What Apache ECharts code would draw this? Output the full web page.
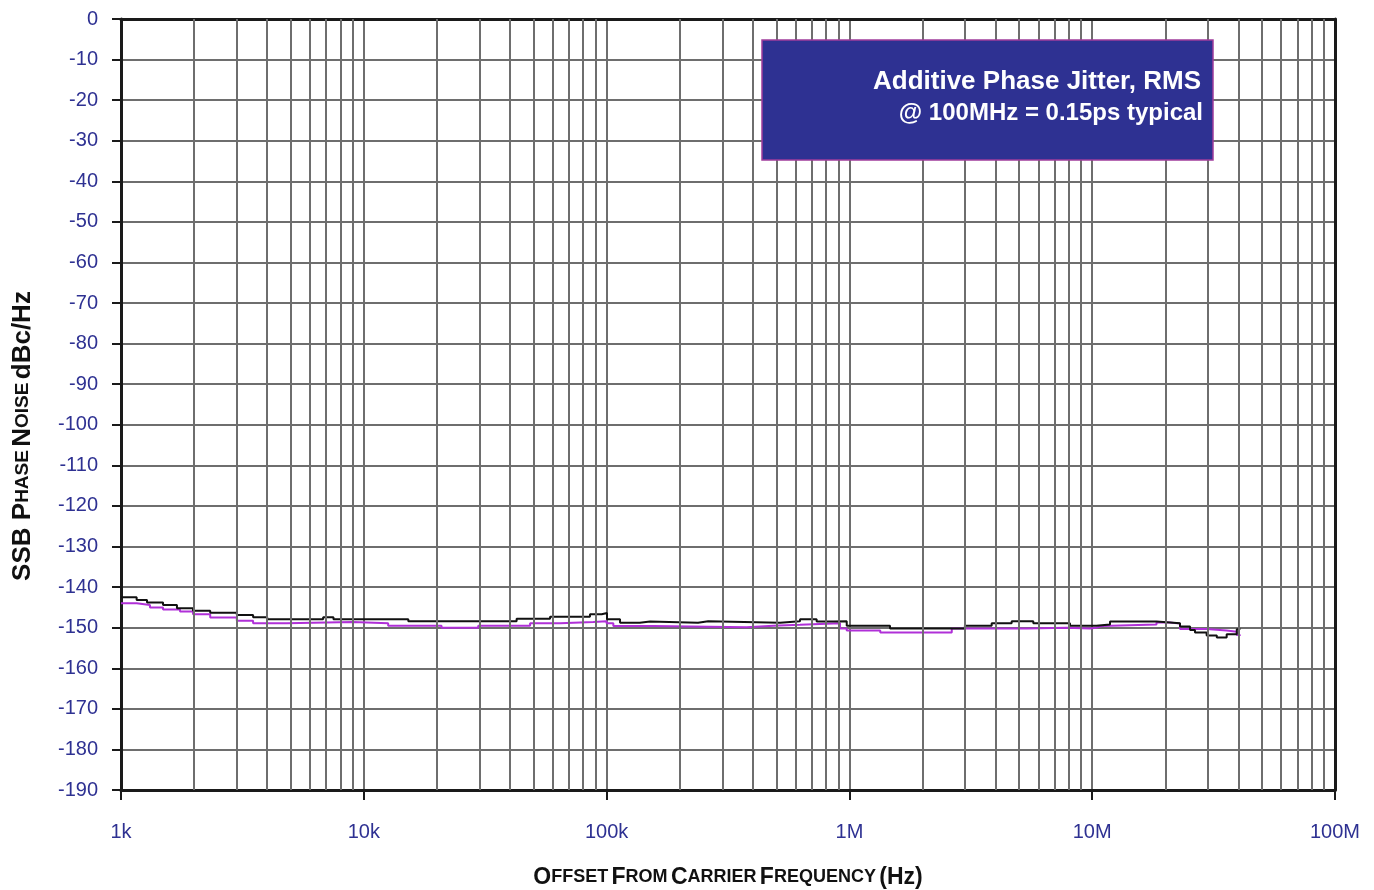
<!DOCTYPE html>
<html>
<head>
<meta charset="utf-8">
<script src="https://cdn.jsdelivr.net/npm/echarts@6/dist/echarts.min.js"></script>
<style>
  html, body { margin: 0; padding: 0; background: #fff; }
  #main { width: 1374px; height: 890px; }
</style>
</head>
<body>
<div id="main"></div>
<script>
// offset frequency (Hz) and SSB phase noise (dBc/Hz)
const blackFreq = [1000, 1160, 1280, 1490, 1700, 1980, 2330, 3000, 3500, 4000, 6800, 7500,
  15250, 42600, 58500, 85400, 95500, 100400, 113600, 137000, 151000, 238000, 262000,
  518000, 626000, 733000, 859000, 975000, 1470000, 2990000, 3855000, 4660000, 5720000,
  8100000, 10400000, 11840000, 18400000, 23000000, 25300000, 26500000, 29600000,
  32600000, 35800000, 39400000, 40500000];
const blackDb = [-142.5, -143.2, -143.8, -144.4, -145.2, -145.8, -146.3, -146.9, -147.4, -147.9, -147.4, -147.9,
  -148.4, -147.8, -147.3, -146.7, -146.4, -147.9, -148.8, -148.5, -148.8, -148.4, -148.8,
  -148.4, -147.9, -148.5, -148.4, -149.5, -150.2, -149.5, -148.9, -148.4, -148.9,
  -149.5, -149.2, -148.5, -148.9, -149.7, -150.6, -151.2, -151.9,
  -152.4, -151.6, -150.4, -150.2];

const magentaFreq = [1000, 1160, 1316, 1490, 1750, 1980, 2330, 3000, 3500, 4810, 9000,
  12600, 20900, 29600, 48400, 64300, 88200, 100000, 106600, 155700, 377000, 486000,
  626000, 915000, 975000, 1340000, 2640000, 5370000, 7850000, 9790000, 10400000,
  11000000, 18400000, 20900000, 23000000, 29600000, 35800000, 39400000, 40600000];
const magentaDb = [-144.0, -144.4, -145.0, -145.5, -146.0, -146.7, -147.5, -148.3, -148.9, -148.6, -148.9,
  -149.5, -150.0, -149.5, -148.9, -148.6, -148.4, -148.9, -149.6, -149.9, -149.5, -149.3,
  -148.9, -150.2, -150.7, -151.2, -150.2, -150.0, -150.2, -150.0, -149.6,
  -149.2, -148.7, -149.0, -150.3, -150.7, -151.0, -151.8, -152.0];

const xTickValues = [1e3, 1e4, 1e5, 1e6, 1e7, 1e8];
const xTickLabels = ['1k', '10k', '100k', '1M', '10M', '100M'];
const minorMultipliers = [2, 3, 4, 5, 6, 7, 8, 9];

const minorFreqs = [];
for (let d = 0; d < xTickValues.length - 1; d++) {
  minorMultipliers.forEach(function (m) { minorFreqs.push(xTickValues[d] * m); });
}

function pairs(xs, ys) {
  return xs.map(function (x, i) { return [x, ys[i]]; });
}

const labelBlue = '#2e3192';
const gridGray = '#6e6e6e';
const frameBlack = '#1a1a1a';
const font = '"Liberation Sans", Arial, sans-serif';

// plain frame axes for the top and right edges of the plot
function frameX() {
  return {
    type: 'log', logBase: 10, min: 1e3, max: 1e8, position: 'top',
    axisLine: { show: true, onZero: false, lineStyle: { color: frameBlack, width: 3 } },
    axisTick: { show: false }, axisLabel: { show: false }, splitLine: { show: false }
  };
}
function frameY() {
  return {
    type: 'value', min: -190, max: 0, position: 'right',
    axisLine: { show: true, onZero: false, lineStyle: { color: frameBlack, width: 3 } },
    axisTick: { show: false }, axisLabel: { show: false }, splitLine: { show: false }
  };
}

var chartDom = document.getElementById('main');
var myChart = echarts.init(chartDom);
var option = {
  animation: false,
  backgroundColor: '#fff',
  grid: {
    left: 121, right: 39, top: 19, bottom: 100,
    outerBoundsMode: 'none',
    show: false
  },
  xAxis: [{
    type: 'log',
    logBase: 10,
    min: 1e3,
    max: 1e8,
    splitNumber: 5,
    name: '{a|O}{b|FFSET} {a|F}{b|ROM} {a|C}{b|ARRIER} {a|F}{b|REQUENCY} {a|(Hz)}',
    nameLocation: 'middle',
    nameGap: 76,
    nameTextStyle: {
      rich: {
        a: { fontFamily: font, fontWeight: 'bold', fontSize: 23, color: '#111' },
        b: { fontFamily: font, fontWeight: 'bold', fontSize: 18, color: '#111' }
      }
    },
    axisLine: { show: true, onZero: false, lineStyle: { color: frameBlack, width: 3 } },
    axisTick: { show: true, length: 10, lineStyle: { color: frameBlack, width: 2 } },
    axisLabel: {
      margin: 32,
      color: labelBlue,
      fontFamily: font,
      fontSize: 20,
      formatter: function (v) {
        const i = xTickValues.findIndex(function (t) { return Math.abs(t - v) / t < 1e-6; });
        return i >= 0 ? xTickLabels[i] : '';
      }
    },
    splitLine: { show: true, lineStyle: { color: gridGray, width: 2 } }
  }, frameX()],
  yAxis: [{
    type: 'value',
    min: -190,
    max: 0,
    interval: 10,
    axisLine: { show: true, onZero: false, lineStyle: { color: frameBlack, width: 3 } },
    axisTick: { show: true, length: 9, lineStyle: { color: frameBlack, width: 2 } },
    axisLabel: {
      margin: 23,
      color: labelBlue,
      fontFamily: font,
      fontSize: 20
    },
    splitLine: { show: true, lineStyle: { color: gridGray, width: 2 } }
  }, frameY()],
  graphic: [
    {
      type: 'text',
      x: 23,
      y: 436,
      rotation: Math.PI / 2,
      style: {
        text: '{a|SSB P}{b|HASE} {a|N}{b|OISE} {a|dBc/Hz}',
        align: 'center',
        verticalAlign: 'middle',
        rich: {
          a: { fontFamily: font, fontWeight: 'bold', fontSize: 26, fill: '#111' },
          b: { fontFamily: font, fontWeight: 'bold', fontSize: 19, fill: '#111' }
        }
      }
    },
    {
      type: 'rect',
      z: 100,
      shape: { x: 762, y: 40, width: 451, height: 120 },
      style: { fill: '#2e3192', stroke: '#a03c9c', lineWidth: 1.5 }
    },
    {
      type: 'text',
      z: 101,
      x: 1201,
      y: 82,
      style: {
        text: 'Additive Phase Jitter, RMS',
        align: 'right',
        verticalAlign: 'middle',
        fill: '#fff',
        fontFamily: font,
        fontWeight: 'bold',
        fontSize: 26
      }
    },
    {
      type: 'text',
      z: 101,
      x: 1203,
      y: 113,
      style: {
        text: '@ 100MHz = 0.15ps typical',
        align: 'right',
        verticalAlign: 'middle',
        fill: '#fff',
        fontFamily: font,
        fontWeight: 'bold',
        fontSize: 24
      }
    }
  ],
  series: [
    {
      // minor decade grid lines (2..9)
      type: 'line',
      data: [],
      silent: true,
      z: 1,
      markLine: {
        silent: true,
        symbol: ['none', 'none'],
        animation: false,
        label: { show: false },
        lineStyle: { color: gridGray, width: 2, type: 'solid' },
        data: minorFreqs.map(function (f) { return { xAxis: f }; })
      }
    },
    {
      name: 'magenta',
      type: 'line',
      step: 'end',
      showSymbol: false,
      z: 3,
      lineStyle: { color: '#b030d8', width: 2 },
      data: pairs(magentaFreq, magentaDb)
    },
    {
      name: 'black',
      type: 'line',
      step: 'end',
      showSymbol: false,
      z: 4,
      lineStyle: { color: '#111', width: 2 },
      data: pairs(blackFreq, blackDb)
    }
  ]
};

option && myChart.setOption(option);
</script>
</body>
</html>
